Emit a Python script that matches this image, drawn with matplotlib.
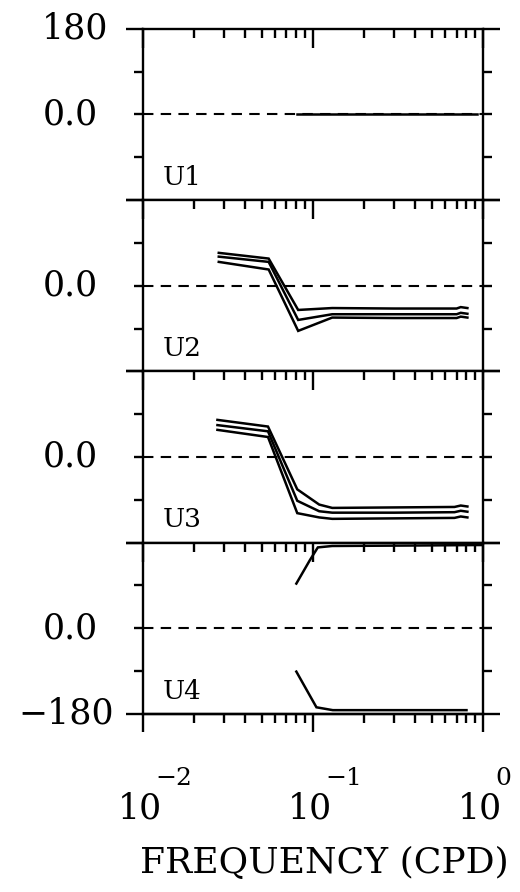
import matplotlib
matplotlib.use("Agg")
import matplotlib.pyplot as plt
from matplotlib.ticker import LogLocator, NullFormatter, FixedLocator

# Phase responses (degrees) versus spatial frequency (cycles per degree)
u1_freq = [0.081, 0.92]
u1_phase = [0.0, 0.0]

u2_freq = [0.028, 0.055, 0.082, 0.13, 0.30, 0.70, 0.74, 0.81]
u2_hi = [69, 57, -51, -47, -48, -48, -45, -47]
u2_mid = [61, 50, -72, -60, -60, -60, -57, -59]
u2_lo = [50, 34, -95, -67, -68, -68, -65, -67]

u3_freq = [0.0275, 0.0545, 0.081, 0.109, 0.13, 0.30, 0.68, 0.74, 0.81]
u3_hi = [78, 64, -68, -100, -107, -106, -105, -102, -104]
u3_mid = [67, 54, -92, -114, -117, -117, -116, -113, -115]
u3_lo = [57, 42, -118, -127, -130, -129, -128, -125, -127]

u4_freq_hi = [0.080, 0.096, 0.107, 0.13, 0.40, 0.98]
u4_hi = [94, 143, 170, 173, 174, 175]
u4_freq_lo = [0.080, 0.105, 0.131, 0.40, 0.80]
u4_lo = [-91, -166, -172, -172, -172]

panel_names = ["U1", "U2", "U3", "U4"]
decades = [-2, -1, 0]

SERIF = ["DejaVu Serif"]
LW = 1.8
AXW = 1.7

fig = plt.figure(figsize=(5.2, 8.92), dpi=100)

left, width = 0.2744, 0.6544
bottom, total_h = 0.1996, 0.7682
h = total_h / 4

axes = []
for i in range(4):
    y0 = bottom + (3 - i) * h
    ax = fig.add_axes([left, y0, width, h])
    axes.append(ax)

panel_series = [
    [(u1_freq, u1_phase)],
    [(u2_freq, u2_hi), (u2_freq, u2_mid), (u2_freq, u2_lo)],
    [(u3_freq, u3_hi), (u3_freq, u3_mid), (u3_freq, u3_lo)],
    [(u4_freq_hi, u4_hi), (u4_freq_lo, u4_lo)],
]

for ax, name, series in zip(axes, panel_names, panel_series):
    ax.set_xscale("log")
    ax.set_xlim(1e-2, 1e0)
    ax.set_ylim(-180, 180)
    ax.axhline(0, color="black", lw=1.5, ls=(0, (5, 3.5)))
    for f, p in series:
        ax.plot(f, p, color="black", lw=LW, solid_joinstyle="miter")
    for s in ax.spines.values():
        s.set_linewidth(AXW)

    # x ticks: pointing down from the top edge of each panel
    ax.xaxis.set_major_locator(LogLocator(base=10, numticks=10))
    ax.xaxis.set_minor_locator(LogLocator(base=10, subs=range(2, 10), numticks=20))
    ax.xaxis.set_major_formatter(NullFormatter())
    ax.xaxis.set_minor_formatter(NullFormatter())
    ax.tick_params(axis="x", which="both", direction="in", top=True, bottom=False,
                   labeltop=False, labelbottom=False, width=AXW)
    ax.tick_params(axis="x", which="major", length=14)
    ax.tick_params(axis="x", which="minor", length=6.5)

    # y ticks: outward on both sides
    ax.yaxis.set_major_locator(FixedLocator([-180, 180]))
    ax.yaxis.set_minor_locator(FixedLocator([-90, 0, 90]))
    ax.tick_params(axis="y", which="both", direction="out", left=True, right=True,
                   labelleft=False, labelright=False, width=AXW)
    ax.tick_params(axis="y", which="major", length=12)
    ax.tick_params(axis="y", which="minor", length=6.5)

    ax.text(0.058, -132, name, transform=ax.get_yaxis_transform(),
            fontsize=19, family=SERIF, va="center", ha="left")

    ax.annotate("0.0", xy=(0, 0), xycoords=("axes fraction", "data"),
                xytext=(-32, 0), textcoords="offset points",
                ha="right", va="center", fontsize=25, family=SERIF)

axes[0].annotate("180", xy=(0, 180), xycoords=("axes fraction", "data"),
                 xytext=(-25, 0), textcoords="offset points",
                 ha="right", va="center", fontsize=25, family=SERIF)
axes[3].annotate("\u2212180", xy=(0, -180), xycoords=("axes fraction", "data"),
                 xytext=(-21, 0), textcoords="offset points",
                 ha="right", va="center", fontsize=25, family=SERIF)

# bottom axis: ticks pointing outward, decade labels drawn as 10 with raised exponent
ax4 = axes[3]
sec = ax4.secondary_xaxis("bottom")
sec.xaxis.set_major_locator(LogLocator(base=10, numticks=10))
sec.xaxis.set_minor_locator(LogLocator(base=10, subs=range(2, 10), numticks=20))
sec.xaxis.set_major_formatter(NullFormatter())
sec.xaxis.set_minor_formatter(NullFormatter())
sec.tick_params(axis="x", which="both", direction="out", width=AXW)
sec.tick_params(axis="x", which="major", length=13)
sec.tick_params(axis="x", which="minor", length=6.5)
sec.spines["bottom"].set_linewidth(AXW)

for d in decades:
    ax4.annotate("10", xy=(10.0 ** d, 0), xycoords=("data", "axes fraction"),
                 xytext=(-2, -75), textcoords="offset points",
                 ha="center", va="baseline", fontsize=25, family=SERIF,
                 annotation_clip=False)
    exp = "\u2212" + str(-d) if d < 0 else str(d)
    ax4.annotate(exp, xy=(10.0 ** d, 0), xycoords=("data", "axes fraction"),
                 xytext=(9, -51), textcoords="offset points",
                 ha="left", va="baseline", fontsize=18, family=SERIF,
                 annotation_clip=False)

fig.text(324 / 520, 1 - 873 / 892, "FREQUENCY (CPD)", ha="center", va="baseline",
         fontsize=26, family=SERIF)

fig.savefig("out.png", dpi=100)
